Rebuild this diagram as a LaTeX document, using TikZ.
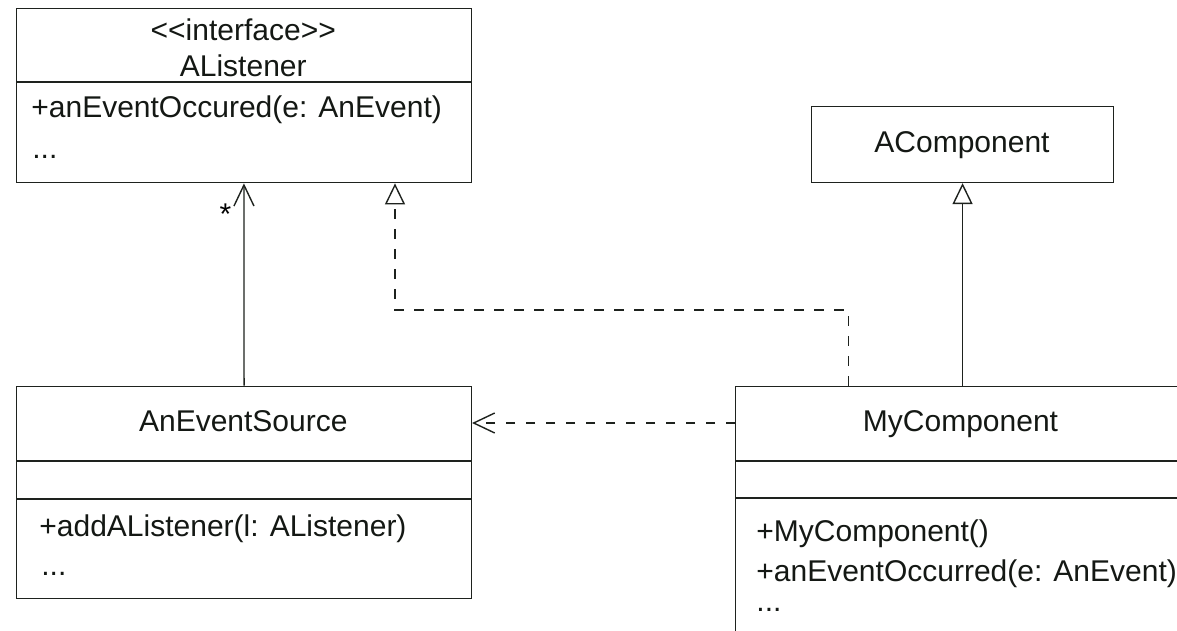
\documentclass[tikz,border=0pt]{standalone}
\usepackage{fontspec}
\setmainfont{Liberation Sans}[Ligatures=TeXOff]
\usetikzlibrary{arrows.meta}
\tikzset{
  ln/.style={line width=0.7pt, draw={rgb,255:red,30;green,34;blue,30}},
  cls/.style={ln, rectangle, anchor=north west, inner sep=0pt, fill=white},
  txt/.style={inner sep=0pt, anchor=base, font=\fontsize{15}{18}\selectfont, text={rgb,255:red,20;green,24;blue,20}},
  ltxt/.style={txt, anchor=base west},
  assoc/.style={ln, -{Straight Barb[length=10.5pt,width=10pt,line width=0.7pt]}},
  real/.style={ln, dash pattern=on 4.7pt off 5.3pt, -{Triangle[open,length=10.5pt,width=10pt,line width=0.7pt,fill=white]}},
  gen/.style={ln, -{Triangle[open,length=10.5pt,width=10pt,line width=0.7pt,fill=white]}},
  dep/.style={ln, dash pattern=on 4.7pt off 5.3pt, -{Straight Barb[length=10.5pt,width=10pt,line width=0.7pt]}}
}
\begin{document}
\begin{tikzpicture}[x=0.5pt,y=-0.5pt]
\useasboundingbox (0,0) rectangle (1177,631);
\fill[white] (0,0) rectangle (1177,631);
\clip (0,0) rectangle (1177,631);
% class boxes
\node[cls, minimum width=227.25pt, minimum height=87pt] (al) at (16,8) {};
\node[cls, minimum width=151.15pt, minimum height=37.85pt] (ac) at (810.7,106) {};
\node[cls, minimum width=227.35pt, minimum height=106pt] (aes) at (16,385.5) {};
\node[cls, minimum width=225.5pt, minimum height=127.25pt] (myc) at (735,385.5) {};
% dividers
\draw[ln] (al.west |- 0,82) -- (al.east |- 0,82);
\draw[ln] (aes.west |- 0,461) -- (aes.east |- 0,461);
\draw[ln] (aes.west |- 0,499) -- (aes.east |- 0,499);
\draw[ln] (myc.west |- 0,461) -- (myc.east |- 0,461);
\draw[ln] (myc.west |- 0,498) -- (myc.east |- 0,498);
% texts
\node[txt] (alst) at (243.25,41) {<<interface>>};
\node[txt] (alnm) at (243.25,77) {AListener};
\node[ltxt] (alm1) at (31,118) {+anEventOccured(e: AnEvent)};
\node[ltxt] (alm2) at (32,158) {...};
\node[txt] (acnm) at (962,152) {AComponent};
\node[txt] (aesnm) at (243.3,431) {AnEventSource};
\node[ltxt] (aesm1) at (39,536.7) {+addAListener(l: AListener)};
\node[ltxt] (aesm2) at (41,575) {...};
\node[txt] (mycnm) at (960.5,431.7) {MyComponent};
\node[ltxt] (mycm1) at (756,541.7) {+MyComponent()};
\node[ltxt] (mycm2) at (756,581.7) {+anEventOccurred(e: AnEvent)};
\node[ltxt] (mycm3) at (756,611) {...};
% connectors
\draw[assoc] (aes.north) -- (al.south) node[pos=0.85, left=6pt, font=\fontsize{15}{18}\selectfont, inner sep=0pt] (mult) {*};
\coordinate (r1) at (848.3,310);
\coordinate (r2) at (395,310);
\draw[real] (myc.north -| r1) -- (r1) -- (r2) -- (al.south -| r2);
\draw[gen] (myc.north -| ac.south) -- (ac.south);
\coordinate (d) at (0,423);
\draw[dep] (myc.west |- d) -- (aes.east |- d);
\end{tikzpicture}
\end{document}
